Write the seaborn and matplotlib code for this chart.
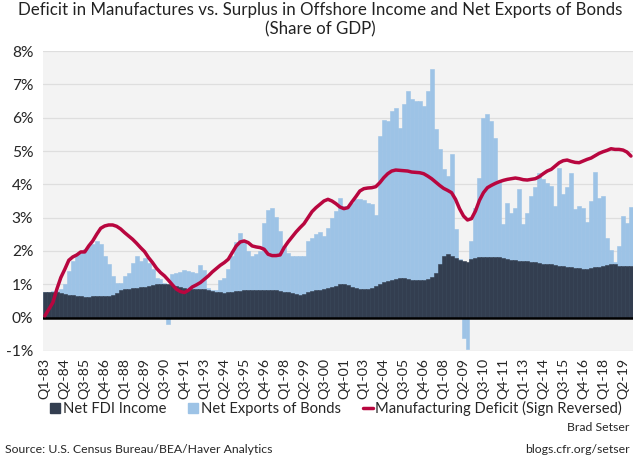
import numpy as np
import pandas as pd
import seaborn as sns
from matplotlib import pyplot as plt
from matplotlib.patches import Patch
from matplotlib.lines import Line2D

# quarters Q1-83 .. Q4-19
quarters = [f"Q{q}-{y % 100:02d}" for y in range(1983, 2020) for q in range(1, 5)]

# share of GDP, %
fdi_income = [
    0.77, 0.77, 0.76, 0.76, 0.73, 0.71, 0.69, 0.67, 0.65, 0.64, 0.63, 0.63,
    0.64, 0.65, 0.66, 0.65, 0.64, 0.68, 0.75, 0.82, 0.86, 0.87, 0.88, 0.89,
    0.91, 0.93, 0.95, 0.98, 1.00, 1.02, 1.02, 1.00, 0.97, 0.94, 0.91, 0.89,
    0.87, 0.86, 0.86, 0.86, 0.85, 0.83, 0.80, 0.78, 0.76, 0.75, 0.76, 0.77,
    0.79, 0.81, 0.82, 0.83, 0.83, 0.82, 0.82, 0.83, 0.84, 0.83, 0.82, 0.80,
    0.78, 0.76, 0.73, 0.70, 0.69, 0.72, 0.77, 0.80, 0.82, 0.84, 0.86, 0.88,
    0.92, 0.96, 1.00, 1.02, 0.97, 0.92, 0.88, 0.87, 0.87, 0.87, 0.89, 0.95,
    1.02, 1.08, 1.10, 1.13, 1.16, 1.18, 1.20, 1.17, 1.14, 1.12, 1.12, 1.14,
    1.16, 1.22, 1.35, 1.62, 1.84, 1.92, 1.86, 1.78, 1.72, 1.70, 1.68, 1.75,
    1.80, 1.82, 1.83, 1.83, 1.83, 1.82, 1.82, 1.80, 1.77, 1.74, 1.72, 1.71,
    1.70, 1.69, 1.68, 1.66, 1.64, 1.62, 1.61, 1.60, 1.58, 1.56, 1.55, 1.53,
    1.51, 1.50, 1.48, 1.47, 1.47, 1.49, 1.51, 1.53, 1.56, 1.58, 1.61, 1.60,
    1.56, 1.55, 1.55, 1.56,
]

net_bond_exports = [
    0.01, 0.01, 0.03, 0.04, 0.12, 0.29, 0.71, 1.03, 1.25, 1.36, 1.42, 1.52,
    1.56, 1.65, 1.54, 1.20, 0.96, 0.57, 0.30, 0.23, 0.39, 0.48, 0.77, 0.96,
    0.79, 0.87, 0.70, 0.47, 0.20, 0.13, 0.03, -0.20, 0.33, 0.39, 0.46, 0.53,
    0.53, 0.50, 0.49, 0.72, 0.59, 0.05, 0.04, 0.04, 0.38, 0.44, 0.69, 1.08,
    1.48, 1.74, 1.48, 1.17, 1.01, 1.08, 1.18, 2.01, 2.40, 2.46, 2.20, 1.79,
    1.36, 1.18, 1.13, 1.15, 1.15, 1.12, 1.53, 1.58, 1.68, 1.73, 1.59, 1.82,
    2.08, 2.24, 2.60, 2.33, 2.36, 2.53, 2.67, 2.68, 2.66, 2.58, 2.51, 2.13,
    4.43, 4.85, 4.80, 5.07, 5.14, 4.52, 5.20, 5.63, 5.41, 5.38, 5.38, 5.21,
    5.64, 6.25, 4.30, 3.43, 2.61, 2.33, 3.04, 0.87, 0.05, -0.60, -0.95, 0.55,
    1.50, 2.38, 4.17, 4.27, 4.07, 3.58, 2.28, 1.00, 1.68, 1.40, 1.56, 2.14,
    1.10, 1.46, 1.97, 2.26, 2.70, 2.55, 2.44, 2.35, 1.76, 2.94, 2.15, 2.40,
    2.83, 1.75, 1.88, 1.83, 1.40, 2.01, 2.87, 2.07, 2.08, 0.82, 0.43, 0.08,
    0.58, 1.49, 1.29, 1.76,
]

mfg_deficit = [
    0.05, 0.25, 0.45, 0.85, 1.20, 1.45, 1.72, 1.82, 1.88, 1.97, 1.97, 2.15,
    2.30, 2.50, 2.68, 2.75, 2.78, 2.78, 2.74, 2.66, 2.55, 2.45, 2.35, 2.23,
    2.10, 1.98, 1.80, 1.65, 1.48, 1.35, 1.25, 1.12, 0.98, 0.85, 0.78, 0.75,
    0.82, 0.92, 0.98, 1.05, 1.15, 1.25, 1.37, 1.47, 1.57, 1.65, 1.75, 1.95,
    2.15, 2.27, 2.30, 2.25, 2.15, 2.12, 2.10, 2.05, 1.90, 1.86, 1.86, 1.88,
    2.10, 2.27, 2.42, 2.57, 2.70, 2.82, 3.00, 3.18, 3.30, 3.40, 3.50, 3.55,
    3.50, 3.42, 3.32, 3.27, 3.30, 3.47, 3.63, 3.80, 3.87, 3.89, 3.90, 3.93,
    4.05, 4.20, 4.32, 4.40, 4.43, 4.42, 4.41, 4.40, 4.37, 4.36, 4.35, 4.32,
    4.25, 4.17, 4.07, 3.97, 3.88, 3.82, 3.75, 3.55, 3.27, 3.05, 2.93, 2.97,
    3.20, 3.52, 3.75, 3.90, 3.97, 4.03, 4.08, 4.12, 4.15, 4.17, 4.19, 4.17,
    4.14, 4.13, 4.15, 4.17, 4.23, 4.32, 4.40, 4.45, 4.55, 4.65, 4.71, 4.73,
    4.69, 4.66, 4.65, 4.70, 4.75, 4.79, 4.86, 4.93, 4.98, 5.02, 5.07, 5.05,
    5.05, 5.03, 4.97, 4.85,
]

y_ticks = [-1, 0, 1, 2, 3, 4, 5, 6, 7, 8]

NAVY = "#333e50"
BLUE = "#9dc3e6"
RED = "#b8063f"

sns.set_theme(style="white")
plt.rcParams["font.family"] = ["Lato", "DejaVu Sans"]

df = pd.DataFrame({
    "quarter": quarters,
    "fdi": fdi_income,
    "bonds": net_bond_exports,
    "mfg": mfg_deficit,
})
# bonds stack on top of FDI when positive, hang below zero when negative
df["bond_top"] = np.where(df["bonds"] > 0, df["fdi"] + df["bonds"], df["bonds"])

fig, ax = plt.subplots(figsize=(6.4, 4.61), dpi=100)
fig.subplots_adjust(left=0.067, right=0.989, top=0.889, bottom=0.239)
ax.set_facecolor("#f3f3f3")

sns.barplot(data=df, x="quarter", y="bond_top", color=BLUE, saturation=1,
            width=1.0, edgecolor=BLUE, linewidth=0.4, ax=ax, zorder=2)
sns.barplot(data=df, x="quarter", y="fdi", color=NAVY, saturation=1,
            width=1.0, edgecolor=NAVY, linewidth=0.4, ax=ax, zorder=3)
sns.lineplot(x=np.arange(len(df)), y=df["mfg"].values, color=RED,
             linewidth=2.5, ax=ax, zorder=5)
ax.axhline(0, color="black", lw=1.8, zorder=4)

ax.set_xlim(-0.5, len(df) - 0.5)
ax.set_ylim(-1, 8)
ax.set_yticks(y_ticks)
ax.set_yticklabels([f"{v}%" for v in y_ticks], fontsize=11.2)
ax.set_xticks(range(0, len(df), 5))
ax.set_xticklabels(quarters[::5], rotation=90, fontsize=10.2)
ax.tick_params(axis="both", length=0)
ax.tick_params(axis="y", pad=7)
ax.tick_params(axis="x", pad=5)
ax.set_xlabel("")
ax.set_ylabel("")
ax.yaxis.grid(True, color="#dedede", lw=0.9)
ax.set_axisbelow(True)
for s in ax.spines.values():
    s.set_visible(False)

fig.text(0.5, 0.995,
         "Deficit in Manufactures vs. Surplus in Offshore Income and Net Exports of Bonds\n(Share of GDP)",
         ha="center", va="top", fontsize=12.2, linespacing=1.25, color="#222222")

handles = [
    Patch(facecolor=NAVY, edgecolor=NAVY),
    Patch(facecolor=BLUE, edgecolor=BLUE),
    Line2D([0], [0], color=RED, lw=2.5),
]
labels = ["Net FDI Income", "Net Exports of Bonds", "Manufacturing Deficit (Sign Reversed)"]
fig.legend(handles, labels, loc="center", bbox_to_anchor=(0.525, 0.113), ncol=3,
           frameon=False, fontsize=10.6, handlelength=0.7, handleheight=0.7,
           handletextpad=0.15, columnspacing=1.5)

fig.text(0.984, 0.072, "Brad Setser", ha="right", va="center", fontsize=8.8)
fig.text(0.008, 0.026, "Source: U.S. Census Bureau/BEA/Haver Analytics",
         ha="left", va="center", fontsize=8.8)
fig.text(0.984, 0.026, "blogs.cfr.org/setser", ha="right", va="center", fontsize=8.8)

fig.savefig("out.png", dpi=100)
